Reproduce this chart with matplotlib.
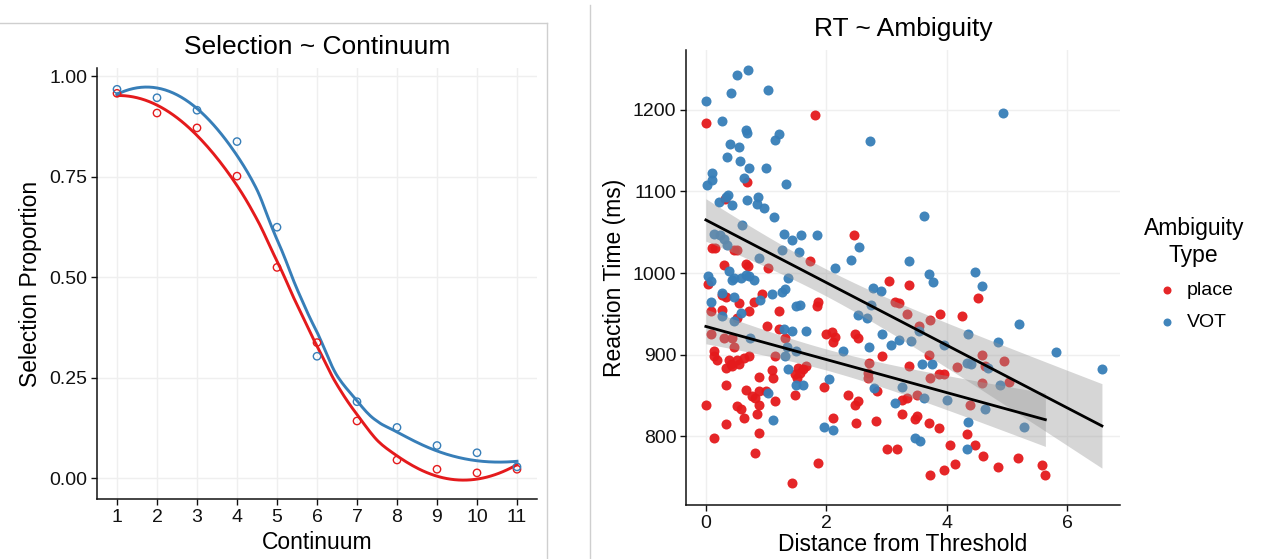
import numpy as np
import matplotlib
matplotlib.use("Agg")
import matplotlib.pyplot as plt
from matplotlib.lines import Line2D

plt.rcParams['font.family'] = ['Liberation Sans', 'DejaVu Sans']

RED = '#E41A1C'
BLUE = '#377EB8'

# left panel: selection proportion along the continuum
continuum = [1, 2, 3, 4, 5, 6, 7, 8, 9, 10, 11]
sel_vot = [0.967, 0.946, 0.915, 0.837, 0.624, 0.303, 0.190, 0.126, 0.081, 0.063, 0.028]
sel_place = [0.957, 0.908, 0.871, 0.751, 0.524, 0.337, 0.142, 0.045, 0.022, 0.013, 0.022]

# right panel: reaction time vs distance from threshold
vot_dist = [0.0, 0.52, 0.70, 0.41, 1.03, 0.27, 2.73, 0.66, 0.69, 1.15, 1.22, 0.40, 0.55, 0.35,
            0.56, 0.71, 1.0, 0.11, 0.11, 0.02, 0.63, 1.33, 0.37, 0.33, 0.21, 0.44, 0.69, 0.86,
            0.85, 0.96, 1.13, 0.60, 0.13, 0.24, 0.30, 0.35, 1.30, 1.43, 1.58, 1.85, 2.54, 1.26,
            1.55, 0.89, 2.41, 4.93, 3.62, 3.37,
            2.14, 0.03, 0.08, 0.38, 0.44, 0.66, 0.72, 0.80, 0.58, 0.47, 1.37, 0.08, 0.27, 0.47,
            0.90, 1.10, 1.26, 1.32, 1.50, 1.56, 0.58, 0.27, 0.47, 2.52, 1.67, 1.29, 1.43, 0.74,
            1.34, 1.50, 2.27, 1.32, 1.37, 1.50, 1.62, 2.05, 1.04, 1.12, 1.97, 2.11,
            2.77, 2.91, 4.47, 4.58, 3.70, 3.77, 5.21, 5.81, 6.58, 4.36, 4.85, 2.68, 2.74, 2.93,
            3.07, 3.21, 3.40, 3.54, 3.95, 3.59, 3.76, 4.33, 4.41, 4.69, 4.88, 3.26, 3.15, 3.62,
            4.0, 4.63, 5.29, 4.36, 3.48, 3.56, 4.33, 2.80, 2.71]
vot_rt = [1211, 1243, 1248, 1220, 1224, 1186, 1162, 1175, 1171, 1163, 1170, 1158, 1154, 1142,
          1137, 1128, 1128, 1122, 1114, 1108, 1116, 1109, 1096, 1093, 1087, 1083, 1089, 1093,
          1084, 1079, 1068, 1059, 1048, 1046, 1042, 1034, 1048, 1040, 1047, 1046, 1032, 1028,
          1026, 1018, 1016, 1196, 1070, 1015,
          1006, 996, 990, 1002, 992, 998, 996, 992, 994, 994, 994, 965, 976, 971,
          967, 974, 977, 980, 959, 961, 951, 947, 941, 949, 929, 931, 929, 920,
          910, 904, 904, 898, 882, 863, 863, 870, 853, 820, 812, 808,
          982, 978, 1001, 984, 999, 989, 938, 903, 883, 925, 916, 945, 961, 925,
          912, 918, 917, 929, 912, 888, 888, 890, 888, 884, 863, 861, 841, 847,
          845, 833, 812, 818, 798, 794, 784, 859, 910]

place_dist = [0.01, 1.81, 0.69, 0.32, 2.46, 0.10, 0.16, 0.47, 0.52, 1.73,
              0.30, 0.66, 0.70, 1.04, 0.03, 0.27, 0.33, 0.55, 0.71, 0.80, 0.93, 1.21, 1.86, 1.84,
              0.08, 0.27, 0.08, 0.30, 0.44, 0.52, 1.01, 1.21, 1.32, 0.14, 0.14, 0.19, 0.47, 0.38,
              0.41, 0.44, 0.52, 0.55, 0.63, 0.71, 0.33, 0.88, 1.10, 1.12, 1.15, 1.53, 1.56, 1.62,
              1.67, 1.48, 1.51, 0.33, 0.66, 0.77, 0.82, 0.88, 1.0, 1.15, 1.48, 0.88, 0.52, 0.58,
              0.63, 0.85, 0.88, 0.33, 0.14, 0.0, 0.82, 1.43, 1.86, 1.97, 2.11, 2.36, 2.52, 2.47,
              2.0, 2.1, 2.15, 2.11, 2.47, 2.52, 2.50,
              3.05, 3.37, 3.15, 3.21, 3.34, 3.89, 3.73, 4.25, 4.52, 3.54, 3.70, 4.17, 4.58, 4.63,
              4.96, 5.04, 2.93, 2.71, 2.69, 2.69, 3.37, 3.87, 3.95, 3.73, 4.58, 4.39, 3.34, 3.26,
              3.51, 2.85, 3.26, 3.50, 3.48, 3.70, 3.87, 2.82, 4.33, 4.47, 4.06, 4.61, 5.18, 3.01,
              3.18, 4.85, 4.14, 3.95, 3.73, 5.59, 5.64]
place_rt = [1184, 1193, 1112, 1090, 1047, 1031, 1031, 1028, 1028, 1015,
            1010, 1011, 1009, 1006, 986, 973, 971, 963, 953, 965, 974, 954, 965, 959,
            953, 955, 925, 920, 920, 945, 935, 931, 920, 904, 898, 894, 910, 894,
            888, 886, 894, 888, 896, 898, 884, 873, 881, 871, 898, 884, 878, 882,
            886, 876, 872, 863, 857, 850, 847, 855, 855, 843, 851, 839, 837, 833,
            823, 827, 804, 815, 798, 838, 780, 743, 767, 861, 822, 851, 843, 838,
            925, 928, 922, 916, 925, 920, 816,
            990, 985, 965, 963, 950, 950, 942, 947, 969, 935, 900, 885, 900, 886,
            892, 867, 898, 890, 877, 871, 886, 876, 876, 871, 865, 839, 847, 845,
            851, 855, 827, 825, 821, 816, 810, 819, 803, 790, 790, 776, 774, 784,
            784, 763, 766, 759, 753, 765, 753]


def style_axes(ax):
    for side in ['top', 'right']:
        ax.spines[side].set_visible(False)
    for side in ['left', 'bottom']:
        ax.spines[side].set_linewidth(1.1)
        ax.spines[side].set_color('#111111')
    ax.grid(True, color='#efefef', linewidth=1.0)
    ax.set_axisbelow(True)
    ax.tick_params(direction='out', length=4, width=1, colors='#111111', labelsize=14, pad=3)


def loess(x, y, grid, span=0.75):
    # local quadratic fit with tricube weights, like geom_smooth's default
    x = np.asarray(x, float)
    y = np.asarray(y, float)
    q = int(np.floor(span * len(x)))
    out = []
    for x0 in grid:
        d = np.abs(x - x0)
        h = np.sort(d)[q - 1]
        w = np.clip(1 - (d / h) ** 3, 0, None) ** 3
        X = np.vstack([np.ones_like(x), x - x0, (x - x0) ** 2]).T
        W = np.diag(w)
        beta = np.linalg.solve(X.T @ W @ X, X.T @ W @ y)
        out.append(beta[0])
    return np.array(out)


def lm_band(x, y, grid):
    x = np.asarray(x, float)
    y = np.asarray(y, float)
    b, a = np.polyfit(x, y, 1)
    n = len(x)
    resid = y - (a + b * x)
    s = np.sqrt(np.sum(resid ** 2) / (n - 2))
    sxx = np.sum((x - x.mean()) ** 2)
    se = s * np.sqrt(1.0 / n + (grid - x.mean()) ** 2 / sxx)
    fit = a + b * grid
    return fit, fit - 1.97 * se, fit + 1.97 * se


fig = plt.figure(figsize=(12.61, 5.59), dpi=100)

# screenshot frame lines
fig.add_artist(Line2D([0, 547 / 1261], [1 - 23 / 559, 1 - 23 / 559], color='#cfcfcf', lw=1))
fig.add_artist(Line2D([547 / 1261, 547 / 1261], [0, 1 - 23 / 559], color='#cfcfcf', lw=1))
fig.add_artist(Line2D([590 / 1261, 590 / 1261], [0, 1 - 5 / 559], color='#cfcfcf', lw=1))

# left panel
ax1 = fig.add_axes([97 / 1261, 60 / 559, 440 / 1261, 431 / 559])
style_axes(ax1)
xs = np.linspace(1, 11, 200)
for vals, col in [(sel_place, RED), (sel_vot, BLUE)]:
    ax1.plot(xs, loess(continuum, vals, xs), color=col, lw=2.1)
    ax1.scatter(continuum, vals, s=28, facecolors='none', edgecolors=col, linewidths=1.0, zorder=3)
ax1.set_xlim(0.5, 11.5)
ax1.set_ylim(-0.052, 1.02)
ax1.set_xticks(continuum)
ax1.set_yticks([0, 0.25, 0.5, 0.75, 1.0])
ax1.set_yticklabels(['0.00', '0.25', '0.50', '0.75', '1.00'])
ax1.set_xlabel('Continuum', fontsize=16.5, labelpad=4)
ax1.set_ylabel('Selection Proportion', fontsize=16.5, labelpad=5)
ax1.set_title('Selection ~ Continuum', fontsize=19, pad=10)

# right panel
ax2 = fig.add_axes([686 / 1261, 54 / 559, 434 / 1261, 455 / 559])
style_axes(ax2)
ax2.scatter(place_dist, place_rt, s=52, color=RED, alpha=0.95, linewidths=0, label='place')
ax2.scatter(vot_dist, vot_rt, s=52, color=BLUE, alpha=0.95, linewidths=0, label='VOT')
for d, r in [(place_dist, place_rt), (vot_dist, vot_rt)]:
    grid = np.linspace(min(d), max(d), 100)
    fit, lo, hi = lm_band(d, r, grid)
    ax2.fill_between(grid, lo, hi, color='#999999', alpha=0.4, linewidth=0, zorder=4)
    ax2.plot(grid, fit, color='black', lw=2.0, zorder=5)
ax2.set_xlim(-0.33, 6.88)
ax2.set_ylim(716, 1273)
ax2.set_xticks([0, 2, 4, 6])
ax2.set_yticks([800, 900, 1000, 1100, 1200])
ax2.set_xlabel('Distance from Threshold', fontsize=16.5, labelpad=1)
ax2.set_ylabel('Reaction Time (ms)', fontsize=16.5, labelpad=5)
ax2.set_title('RT ~ Ambiguity', fontsize=19, pad=10)

leg = ax2.legend(title='Ambiguity\nType', loc='upper left', bbox_to_anchor=(1126 / 1261, 1 - 200 / 559),
                 bbox_transform=fig.transFigure, frameon=False, fontsize=14, title_fontsize=16.5,
                 handlelength=1.4, handletextpad=0.3, markerscale=0.8, labelspacing=0.75)
leg.get_title().set_multialignment('center')

fig.savefig('out.png', dpi=100)
